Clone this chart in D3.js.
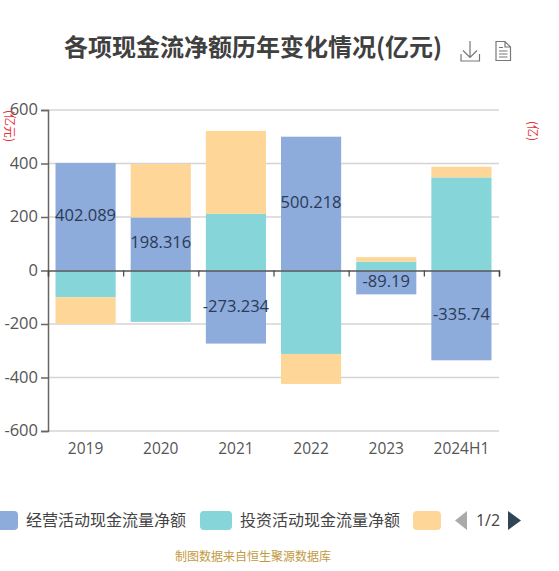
<!DOCTYPE html>
<html><head><meta charset="utf-8">
<script src="https://cdn.jsdelivr.net/npm/d3@7/dist/d3.min.js"></script>
<style>html,body{margin:0;padding:0;background:#fff;overflow:hidden}svg{display:block;font-family:"Noto Sans CJK SC","Open Sans",sans-serif}</style>
</head><body><svg id="c" width="559" height="571"></svg>
<script>
const categories=["2019","2020","2021","2022","2023","2024H1"];
const seriesKeys=["op","inv","other"];
const operating=[402.089,198.316,-273.234,500.218,-89.19,-335.74];
const investing=[-100,-192,212,-312,33,348];
const other=[-100,200,310,-112,17,40];
const yTicks=[-600,-400,-200,0,200,400,600];
const legendNames=["经营活动现金流量净额","投资活动现金流量净额"];
const colors=["#8dabdb","#86d5d9","#fed697"];
const title="各项现金流净额历年变化情况(亿元)";
const source="制图数据来自恒生聚源数据库";
const digitFont='"Open Sans",sans-serif';

const svg=d3.select("#c");
const x=d3.scaleBand().domain(categories).range([48,499]).paddingInner(0.2).paddingOuter(0.1);
const xb=d3.scalePoint().domain(d3.range(7)).range([48,499]);
const y=d3.scaleLinear().domain([-600,600]).range([431,110]);

svg.append("text").attr("x",64).attr("y",56).attr("font-size",24).attr("font-weight",700).attr("fill","#404040").text(title);

// grid
svg.append("g").selectAll("line").data(yTicks.filter(d=>d!==0)).join("line")
 .attr("x1",48).attr("x2",499).attr("y1",d=>y(d)).attr("y2",d=>y(d)).attr("stroke","#d4d4d4").attr("stroke-width",1.5);

// stacks
const rows=categories.map((c,i)=>({c,op:operating[i],inv:investing[i],other:other[i]}));
const stacked=d3.stack().keys(seriesKeys).offset(d3.stackOffsetDiverging)(rows);
svg.append("g").selectAll("g").data(stacked).join("g").attr("fill",(d,i)=>colors[i])
 .selectAll("rect").data(d=>d).join("rect")
 .attr("x",d=>x(d.data.c)).attr("width",x.bandwidth())
 .attr("y",d=>y(Math.max(d[0],d[1]))).attr("height",d=>Math.abs(y(d[0])-y(d[1])));

// axes
const gy=svg.append("g").attr("transform","translate(48,0)").call(d3.axisLeft(y).tickValues(yTicks).tickSize(7).tickPadding(3).tickFormat(d=>String(d)));
gy.selectAll("path,line").attr("stroke","#666").attr("stroke-width",1.5);
gy.selectAll("text").attr("font-size",16.5).attr("fill","#555").attr("font-family",digitFont).attr("dy","0.28em");

const gx=svg.append("g").attr("transform",`translate(0,${y(0)})`).call(d3.axisBottom(xb).tickSize(6).tickFormat(""));
gx.selectAll("path").attr("stroke","#555").attr("stroke-width",1.5);
gx.selectAll("line").attr("stroke","#444").attr("stroke-width",1.2);

svg.append("g").selectAll("text").data(categories).join("text")
 .attr("x",d=>x(d)+x.bandwidth()/2).attr("y",453.5).attr("text-anchor","middle")
 .attr("font-size",15.5).attr("fill","#555").attr("font-family",digitFont).text(d=>d);

// value labels
svg.append("g").selectAll("text").data(operating.map((v,i)=>({v,c:categories[i]}))).join("text")
 .attr("x",d=>x(d.c)+x.bandwidth()/2).attr("y",d=>y(d.v/2)+4.5).attr("text-anchor","middle")
 .attr("font-size",16.5).attr("fill","#2b3a55").attr("font-family",digitFont).text(d=>d.v);

// unit labels
svg.append("text").attr("transform","translate(5,110) rotate(90)").attr("font-size",12).attr("fill","#e8323c").text("(亿元)");
svg.append("text").attr("transform","translate(528,121) rotate(90)").attr("font-size",12).attr("fill","#e8323c").text("(亿)");

// legend
const lg=svg.append("g");
[[-12,18],[200,232],[413,441]].forEach((p,i)=>{
 lg.append("rect").attr("x",p[0]).attr("y",511).attr("width",p[1]-p[0]).attr("height",19).attr("rx",4).attr("fill",colors[i]);
});
legendNames.forEach((n,i)=>{
 lg.append("text").attr("x",[26,240][i]).attr("y",525.5).attr("font-size",16).attr("fill","#444").text(n);
});
lg.append("path").attr("d","M467,511L455,520.5L467,530Z").attr("fill","#aaa");
lg.append("text").attr("x",488).attr("y",525.5).attr("text-anchor","middle").attr("font-size",16).attr("fill","#444").attr("font-family",digitFont).text("1/2");
lg.append("path").attr("d","M508,511L521,520.5L508,530Z").attr("fill","#2f4554");

svg.append("text").attr("x",253).attr("y",561).attr("text-anchor","middle").attr("font-size",12).attr("fill","#c29a3f").text(source);

// toolbox icons
const ic=svg.append("g").attr("fill","none").attr("stroke","#777").attr("stroke-width",1.2);
ic.append("path").attr("d","M470,41V57M463,50.5L470,57.5L477,50.5M461,54V61H479.5V54");
ic.append("path").attr("d","M496,41.5H505L510.5,47V60.5H496ZM505,41.5V47H510.5M499,47.5H503M499,51H507.5M499,54H507.5M499,57H507.5");
</script></body></html>
